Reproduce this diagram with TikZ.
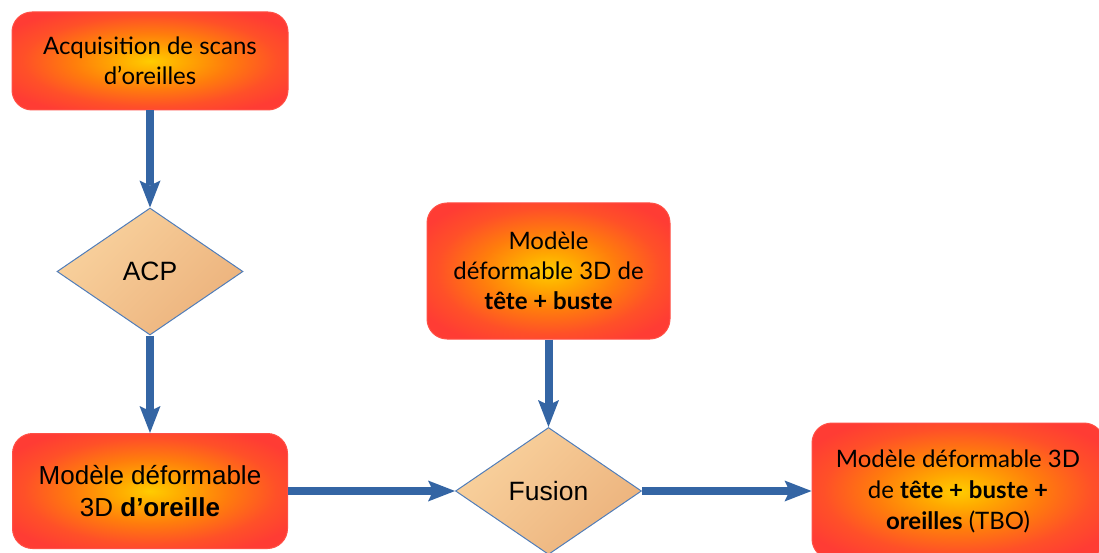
\documentclass[tikz,border=0pt]{standalone}
\usepackage{fontspec}
\setmainfont{Lato}
\newfontfamily\arialf{Liberation Sans}
\usetikzlibrary{shapes.geometric,arrows.meta}
\definecolor{arrowblue}{RGB}{52,101,164}
\definecolor{boxin}{RGB}{255,204,0}
\definecolor{boxa}{RGB}{255,170,0}
\definecolor{boxb}{RGB}{255,125,12}
\definecolor{boxc}{RGB}{255,80,40}
\definecolor{boxout}{RGB}{255,60,52}
\definecolor{boxedge}{RGB}{255,80,70}
\definecolor{dlight}{RGB}{249,210,158}
\definecolor{ddark}{RGB}{236,178,124}
\definecolor{dborder}{RGB}{80,125,185}
\pgfdeclareradialshading{boxshade}{\pgfpoint{0bp}{0bp}}{color(0bp)=(boxin); color(6bp)=(boxa); color(14bp)=(boxb); color(23bp)=(boxc); color(30bp)=(boxout); color(50bp)=(boxout)}
\begin{document}
\begin{tikzpicture}[x=1pt,y=-1pt,
  stepbox/.style={rectangle, rounded corners=20pt, draw=boxedge, line width=1pt, shading=boxshade, align=center, inner sep=0pt, font=\fontsize{24}{30}\selectfont},
  decision/.style={diamond, draw=dborder, line width=1pt, left color=dlight, right color=ddark, shading angle=45, minimum width=186pt, minimum height=127pt, inner sep=0pt, font=\arialf\fontsize{26.5}{30}\selectfont},
  flow/.style={draw=arrowblue, line width=8pt, -{Stealth[length=27pt,width=21pt,inset=5pt,line width=0pt]}}
]
\useasboundingbox (0,0) rectangle (1099,553);
\clip (0,0) rectangle (1099,553);
\node[stepbox, minimum width=276pt, minimum height=98pt] (scans) at (150,61) {Acquisition de scans\\d’oreilles};
\node[decision] (acp) at (150,271.5) {ACP};
\node[stepbox, minimum width=275pt, minimum height=115pt, font=\arialf\fontsize{26}{32}\selectfont] (ear) at (150,491) {Modèle déformable\\3D \textbf{d’oreille}};
\node[stepbox, minimum width=243pt, minimum height=136pt] (head) at (548.5,271) {Modèle\\déformable 3D de\\\textbf{tête + buste}};
\node[decision] (fusion) at (548.5,491) {Fusion};
\node[stepbox, minimum width=292pt, minimum height=136pt, font=\fontsize{24}{31}\selectfont] (tbo) at (958,491) {Modèle déformable 3D\\de \textbf{tête + buste +}\\\textbf{oreilles} (TBO)};
\draw[flow] (scans.south) -- (acp.north);
\draw[flow] (acp.south) -- (ear.north);
\draw[flow] (head.south) -- (fusion.north);
\draw[flow] (ear.east) -- (fusion.west);
\draw[flow] (fusion.east) -- (tbo.west);
\end{tikzpicture}
\end{document}
